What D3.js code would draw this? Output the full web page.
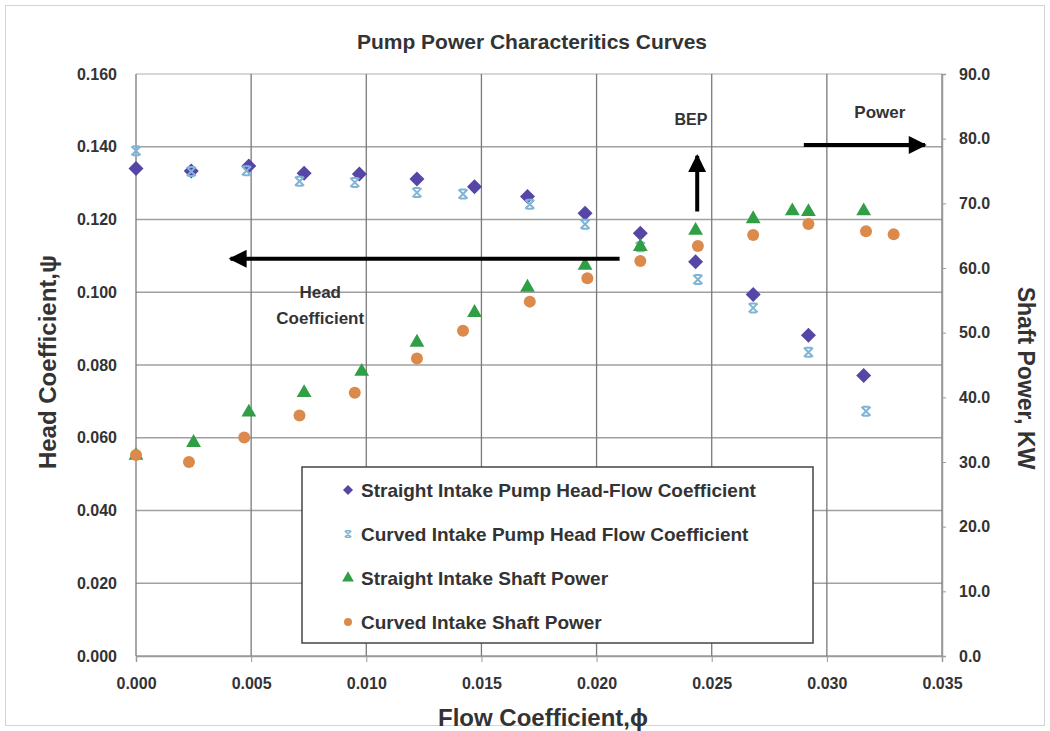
<!DOCTYPE html>
<html>
<head>
<meta charset="utf-8">
<title>Pump Power Characteritics Curves</title>
<script src="https://d3js.org/d3.v7.min.js"></script>
<style>
  body { margin: 0; background: #fff; }
  svg text { font-family: "Liberation Sans", Arial, sans-serif; font-weight: bold; fill: #333; }
</style>
</head>
<body>
<svg id="chart"></svg>
<script>
// data
var straightHeadFlow = [0.0000, 0.0024, 0.0049, 0.0073, 0.0097, 0.0122, 0.0147, 0.0170, 0.0195, 0.0219, 0.0243, 0.0268, 0.0292, 0.0316];
var straightHead     = [0.1340, 0.1333, 0.1347, 0.1327, 0.1325, 0.1311, 0.1290, 0.1263, 0.1217, 0.1162, 0.1084, 0.0994, 0.0882, 0.0771];

var curvedHeadFlow = [0.0000, 0.0024, 0.0048, 0.0071, 0.0095, 0.0122, 0.0142, 0.0171, 0.0195, 0.0219, 0.0244, 0.0268, 0.0292, 0.0317];
var curvedHead     = [0.1389, 0.1332, 0.1334, 0.1305, 0.1302, 0.1274, 0.1270, 0.1242, 0.1187, 0.1125, 0.1035, 0.0957, 0.0835, 0.0673];

var straightPowerFlow = [0.0000, 0.0025, 0.0049, 0.0073, 0.0098, 0.0122, 0.0147, 0.0170, 0.0195, 0.0219, 0.0243, 0.0268, 0.0285, 0.0292, 0.0316];
var straightPower     = [31.0, 33.0, 37.7, 40.7, 44.0, 48.5, 53.1, 57.0, 60.4, 63.3, 65.8, 67.6, 68.8, 68.7, 68.8];

var curvedPowerFlow = [0.0000, 0.0023, 0.0047, 0.0071, 0.0095, 0.0122, 0.0142, 0.0171, 0.0196, 0.0219, 0.0244, 0.0268, 0.0292, 0.0317, 0.0329];
var curvedPower     = [31.1, 30.0, 33.8, 37.2, 40.7, 46.0, 50.3, 54.8, 58.4, 61.1, 63.4, 65.1, 66.8, 65.7, 65.2];

var flowTicks  = [0, 0.005, 0.010, 0.015, 0.020, 0.025, 0.030, 0.035];
var headTicks  = [0, 0.02, 0.04, 0.06, 0.08, 0.10, 0.12, 0.14, 0.16];
var powerTicks = [0, 10, 20, 30, 40, 50, 60, 70, 80, 90];

var seriesNames = [
  "Straight Intake Pump Head-Flow Coefficient",
  "Curved Intake Pump Head Flow Coefficient",
  "Straight Intake Shaft Power",
  "Curved Intake Shaft Power"
];

var width = 1050, height = 731;
var margin = { top: 74, right: 108, bottom: 75, left: 136 };
var innerW = width - margin.left - margin.right;
var innerH = height - margin.top - margin.bottom;

var svg = d3.select("#chart").attr("width", width).attr("height", height);

// outer frame
svg.append("rect")
  .attr("x", 5.5).attr("y", 5.5)
  .attr("width", width - 11).attr("height", height - 11)
  .attr("fill", "#fff").attr("stroke", "#d4d4d4");

var g = svg.append("g").attr("transform", "translate(" + margin.left + "," + margin.top + ")");

var x = d3.scaleLinear().domain([0, 0.035]).range([0, innerW]);
var yL = d3.scaleLinear().domain([0, 0.16]).range([innerH, 0]);
var yR = d3.scaleLinear().domain([0, 90]).range([innerH, 0]);

// gridlines
g.append("g").selectAll("line").data(headTicks).enter().append("line")
  .attr("x1", 0).attr("x2", innerW)
  .attr("y1", function (d) { return yL(d); }).attr("y2", function (d) { return yL(d); })
  .attr("stroke", function (d) { return d === 0.16 ? "#c8c8c8" : "#a0a0a0"; })
  .attr("stroke-width", 1.5);

g.append("g").selectAll("line").data(flowTicks).enter().append("line")
  .attr("x1", function (d) { return x(d); }).attr("x2", function (d) { return x(d); })
  .attr("y1", 0).attr("y2", innerH)
  .attr("stroke", "#7a7a7a").attr("stroke-width", 1.3);

// axes
var xAxis = g.append("g").attr("transform", "translate(0," + innerH + ")")
  .call(d3.axisBottom(x).tickValues(flowTicks).tickFormat(d3.format(".3f")).tickSize(6).tickPadding(16));
var lAxis = g.append("g")
  .call(d3.axisLeft(yL).tickValues(headTicks).tickFormat(d3.format(".3f")).tickSize(0).tickPadding(19));
var rAxis = g.append("g").attr("transform", "translate(" + innerW + ",0)")
  .call(d3.axisRight(yR).tickValues(powerTicks).tickFormat(d3.format(".1f")).tickSize(4).tickPadding(13));

[xAxis, lAxis, rAxis].forEach(function (a) {
  a.select(".domain").attr("stroke", "#9a9a9a").attr("stroke-width", 1.5);
  a.selectAll(".tick line").attr("stroke", "#9a9a9a");
  a.selectAll("text").style("font-size", "16px").attr("fill", "#3a3a3a");
});
lAxis.select(".domain").remove();

// markers
function diamond(s) { return "M0," + (-s) + "L" + s + ",0L0," + s + "L" + (-s) + ",0Z"; }
function cross(s) {
  return "M" + (-s) + "," + (-s) + "L" + s + "," + s + "M" + s + "," + (-s) + "L" + (-s) + "," + s +
         "M" + (-s * 0.7) + "," + (-s) + "L" + (s * 0.7) + "," + (-s) +
         "M" + (-s * 0.7) + "," + s + "L" + (s * 0.7) + "," + s;
}
var triangle = d3.symbol().type(d3.symbolTriangle).size(95);

var colPurple = "#5646a6", colBlue = "#7fb4d6", colGreen = "#2f9e44", colOrange = "#dc8a4c";

function pts(xs, ys) { return xs.map(function (d, i) { return [d, ys[i]]; }); }

g.append("g").selectAll("path").data(pts(straightHeadFlow, straightHead)).enter().append("path")
  .attr("transform", function (d) { return "translate(" + x(d[0]) + "," + yL(d[1]) + ")"; })
  .attr("d", diamond(7.5)).attr("fill", colPurple);

g.append("g").selectAll("path").data(pts(curvedHeadFlow, curvedHead)).enter().append("path")
  .attr("transform", function (d) { return "translate(" + x(d[0]) + "," + yL(d[1]) + ")"; })
  .attr("d", cross(4.5)).attr("fill", "none").attr("stroke", colBlue).attr("stroke-width", 2);

g.append("g").selectAll("path").data(pts(straightPowerFlow, straightPower)).enter().append("path")
  .attr("transform", function (d) { return "translate(" + x(d[0]) + "," + yR(d[1]) + ")"; })
  .attr("d", triangle).attr("fill", colGreen);

g.append("g").selectAll("circle").data(pts(curvedPowerFlow, curvedPower)).enter().append("circle")
  .attr("cx", function (d) { return x(d[0]); }).attr("cy", function (d) { return yR(d[1]); })
  .attr("r", 6).attr("fill", colOrange);

// annotation arrows
svg.append("defs").append("marker")
  .attr("id", "head").attr("viewBox", "0 0 10 10").attr("refX", 9).attr("refY", 5)
  .attr("markerWidth", 6).attr("markerHeight", 4.5).attr("orient", "auto")
  .append("path").attr("d", "M0,0L10,5L0,10Z").attr("fill", "#000");

function arrow(x1, y1, x2, y2) {
  g.append("line").attr("x1", x1).attr("y1", y1).attr("x2", x2).attr("y2", y2)
    .attr("stroke", "#000").attr("stroke-width", 4).attr("marker-end", "url(#head)");
}
arrow(x(0.0210), yL(0.1092), x(0.0041), yL(0.1092));
arrow(x(0.02437), yL(0.1222), x(0.02437), yL(0.1375));
arrow(x(0.0290), yL(0.1405), x(0.03426), yL(0.1405));

g.append("text").attr("x", x(0.0080)).attr("y", yL(0.1000) + 6).attr("text-anchor", "middle")
  .style("font-size", "17px").text("Head");
g.append("text").attr("x", x(0.0080)).attr("y", yL(0.1000) + 32).attr("text-anchor", "middle")
  .style("font-size", "17px").text("Coefficient");
g.append("text").attr("x", x(0.0241)).attr("y", yL(0.1476) + 6).attr("text-anchor", "middle")
  .style("font-size", "16px").text("BEP");
g.append("text").attr("x", x(0.0323)).attr("y", yL(0.1495) + 6).attr("text-anchor", "middle")
  .style("font-size", "17px").text("Power");

// titles
svg.append("text").attr("x", 532).attr("y", 49).attr("text-anchor", "middle")
  .style("font-size", "21px").text("Pump Power Characteritics Curves");
svg.append("text").attr("x", 543).attr("y", 726).attr("text-anchor", "middle")
  .style("font-size", "24px").text("Flow Coefficient,\u03D5");
svg.append("text").attr("transform", "translate(56,362)rotate(-90)")
  .attr("text-anchor", "middle").style("font-size", "24px").text("Head Coefficient,\u03C8");
svg.append("text").attr("transform", "translate(1018,378)rotate(90)")
  .attr("text-anchor", "middle").style("font-size", "23px").text("Shaft Power, KW");

// legend
var legend = svg.append("g").attr("transform", "translate(302,467)");
legend.append("rect").attr("width", 511).attr("height", 176)
  .attr("fill", "#fff").attr("stroke", "#444").attr("stroke-width", 1.5);
var rows = legend.selectAll("g.row").data(seriesNames).enter().append("g")
  .attr("class", "row")
  .attr("transform", function (d, i) { return "translate(46," + (23 + i * 44) + ")"; });
rows.each(function (d, i) {
  var r = d3.select(this);
  if (i === 0) r.append("path").attr("d", diamond(5)).attr("fill", colPurple);
  if (i === 1) r.append("path").attr("d", cross(3.2)).attr("fill", "none").attr("stroke", colBlue).attr("stroke-width", 1.6);
  if (i === 2) r.append("path").attr("d", d3.symbol().type(d3.symbolTriangle).size(60)).attr("fill", colGreen);
  if (i === 3) r.append("circle").attr("r", 4).attr("fill", colOrange);
});
rows.append("text").attr("x", 13).attr("y", 7).style("font-size", "19px").text(function (d) { return d; });
</script>
</body>
</html>
